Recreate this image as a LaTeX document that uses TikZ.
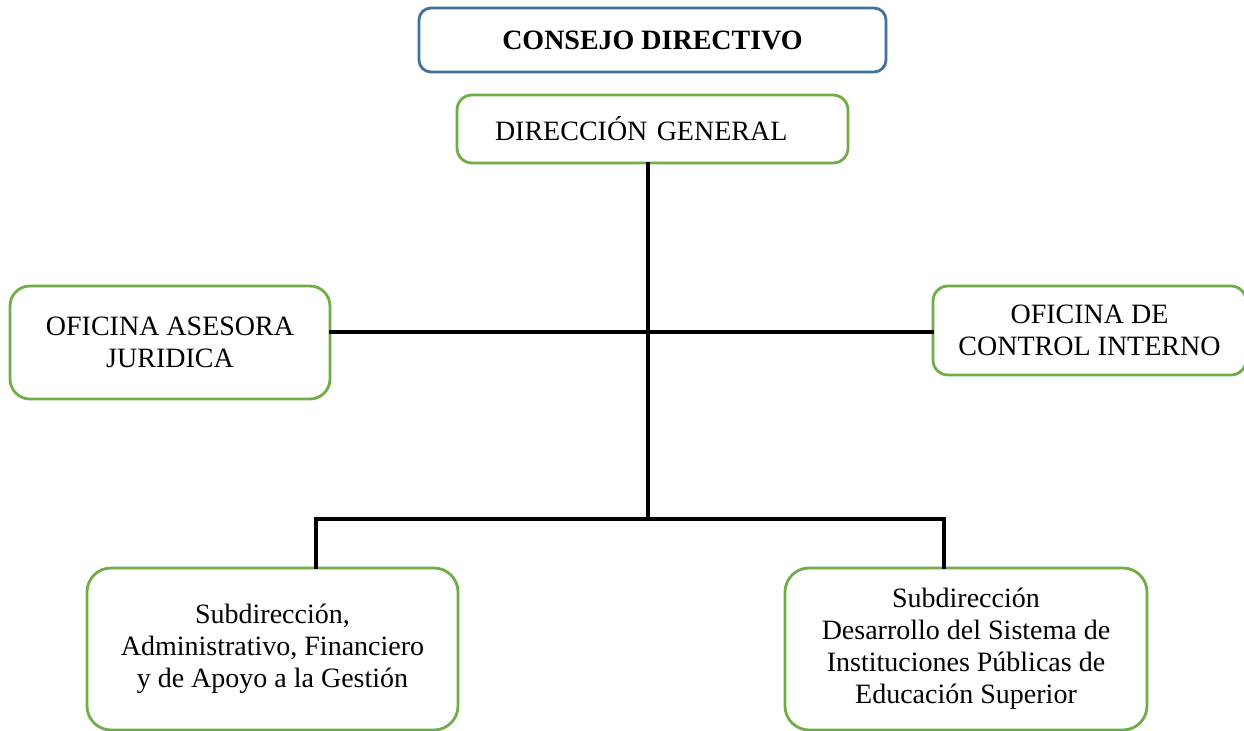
\documentclass[tikz,border=0pt]{standalone}
\usepackage{fontspec}
\setmainfont{Liberation Serif}
\usepackage{xcolor}
\usetikzlibrary{calc, positioning}
\definecolor{boardblue}{RGB}{65,113,156}
\definecolor{unitgreen}{RGB}{112,173,71}

\tikzset{
    unitbox/.style={draw=unitgreen, line width=1.4pt, rounded corners=7.5pt, fill=white,
        align=center, inner sep=0pt, font=\fontsize{14}{16}\selectfont},
    conn/.style={line width=2.4pt, line cap=rect}
}

\begin{document}
\begin{tikzpicture}[x=0.5pt, y=-0.5pt]
    \useasboundingbox (0,0) rectangle (1244,731);

    % top boxes
    \node[draw=boardblue, line width=1.4pt, rounded corners=6pt, inner sep=0pt,
        minimum width=233.5pt, minimum height=32pt, font=\fontsize{14}{16}\selectfont\bfseries]
        (consejo) at (652.5,40) {CONSEJO DIRECTIVO};
    \node[unitbox, align=left, text width=195.5pt, minimum height=34pt]
        (direccion) at (652.5,129) {\hspace*{19pt}DIRECCIÓN GENERAL};

    % staff offices
    \node[unitbox, rounded corners=10pt, minimum width=160pt, minimum height=56.5pt]
        (juridica) at (170,342.5) {OFICINA ASESORA\\JURIDICA};
    \node[unitbox, minimum width=156.5pt, minimum height=44.5pt]
        (control) at (1089.5,330.5) {OFICINA DE\\CONTROL INTERNO};

    % subdirections
    \node[unitbox, rounded corners=12pt, minimum width=185.5pt, minimum height=81pt]
        (admin) at (272.5,649) {Subdirección,\\Administrativo, Financiero\\y de Apoyo a la Gestión};
    \node[unitbox, rounded corners=12pt, minimum width=181pt, minimum height=81pt]
        (desarrollo) at (966,649) {Subdirección\\Desarrollo del Sistema de\\Instituciones Públicas de\\Educación Superior};

    % connectors
    \coordinate (hub) at (648,332);
    \coordinate (split) at (648,519);
    \coordinate (lbranch) at (316,519);
    \coordinate (rbranch) at (944,519);
    \draw[conn] (direccion.south -| split) -- (split);
    \draw[conn] (hub -| juridica.east) -- (hub -| control.west);
    \draw[conn] (lbranch |- admin.north) -- (lbranch) -- (rbranch) -- (rbranch |- desarrollo.north);
\end{tikzpicture}
\end{document}
